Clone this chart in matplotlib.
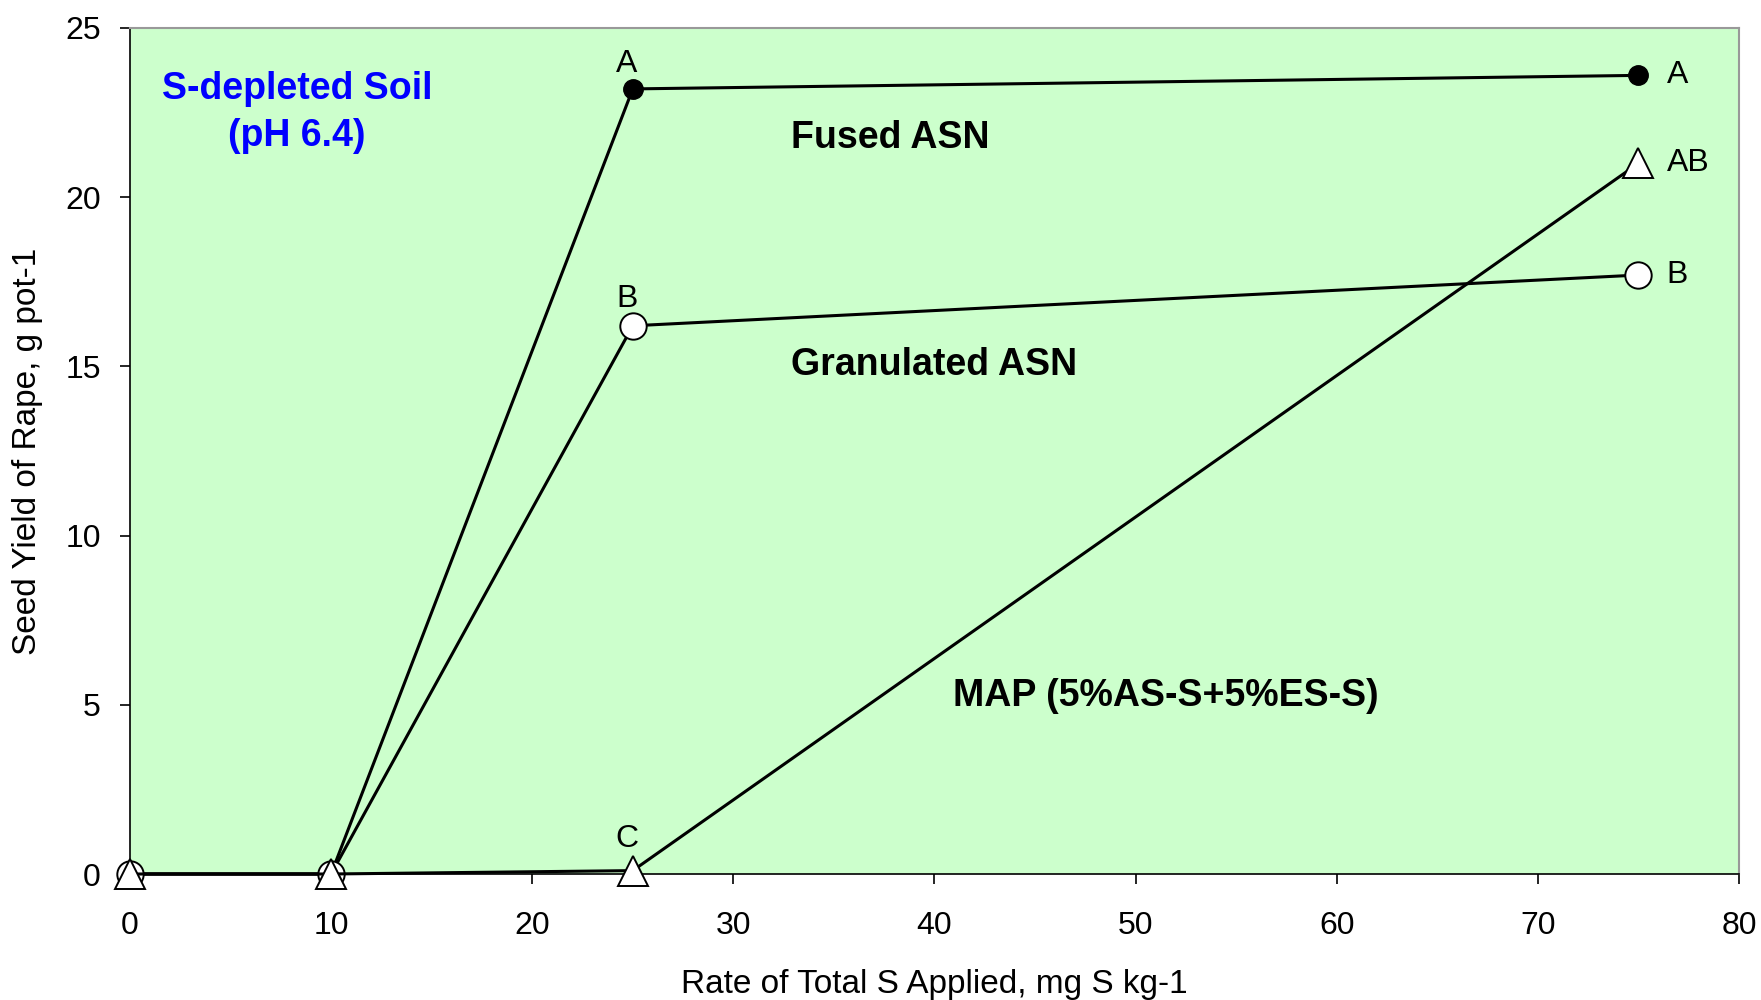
import numpy as np
import matplotlib.pyplot as plt

plt.rcParams['font.family'] = ['Liberation Sans', 'DejaVu Sans']

# Datos del gráfico
dosis_s = [0, 10, 25, 75]
fused_asn = [0, 0, 23.2, 23.6]
granulated_asn = [0, 0, 16.2, 17.7]
map_es = [0, 0, 0.1, 21.0]

letras_fused = ['A', 'A']
letras_gran = ['B', 'B']
letras_map = ['C', 'AB']

fig = plt.figure(figsize=(17.61, 10), dpi=100)
ax = fig.add_axes([0.0738, 0.126, 0.9137, 0.846])
ax.set_facecolor('#CCFFCC')

ax.plot(dosis_s, fused_asn, color='black', lw=2.2, marker='o', ms=14,
        mfc='black', mec='black', clip_on=False, zorder=3)
ax.plot(dosis_s, granulated_asn, color='black', lw=2.2, marker='o', ms=19,
        mfc='white', mec='black', mew=1.4, clip_on=False, zorder=4)
ax.plot(dosis_s, map_es, color='black', lw=2.2, marker='^', ms=21,
        mfc='white', mec='black', mew=1.4, clip_on=False, zorder=5)

ax.set_xlim(0, 80)
ax.set_ylim(0, 25)
ax.set_xticks(np.arange(0, 81, 10))
ax.set_yticks(np.arange(0, 26, 5))
ax.tick_params(direction='out', length=7, width=1.2, labelsize=23, pad=14)
ax.tick_params(axis='x', pad=20)
for lado in ['top', 'right']:
    ax.spines[lado].set_color('#999999')
    ax.spines[lado].set_linewidth(1.5)
for lado in ['left', 'bottom']:
    ax.spines[lado].set_color('black')
    ax.spines[lado].set_linewidth(1.2)

ax.set_xlabel('Rate of Total S Applied, mg S kg-1', fontsize=24, labelpad=20)
ax.set_ylabel('Seed Yield of Rape, g pot-1', fontsize=24, labelpad=16)

# Letras de significancia
ax.text(dosis_s[2] - 0.3, fused_asn[2] + 0.3, letras_fused[0], ha='center', va='bottom', fontsize=23)
ax.text(dosis_s[2] - 0.3, granulated_asn[2] + 0.35, letras_gran[0], ha='center', va='bottom', fontsize=23)
ax.text(dosis_s[2] - 0.3, map_es[2] + 0.5, letras_map[0], ha='center', va='bottom', fontsize=23)
ax.text(dosis_s[3] + 1.4, fused_asn[3], letras_fused[1], ha='left', va='center', fontsize=23)
ax.text(dosis_s[3] + 1.4, granulated_asn[3], letras_gran[1], ha='left', va='center', fontsize=23)
ax.text(dosis_s[3] + 1.4, map_es[3], letras_map[1], ha='left', va='center', fontsize=23)

# Etiquetas de las series
ax.text(37.8, 21.75, 'Fused ASN', ha='center', va='center', fontsize=27, fontweight='bold')
ax.text(40.0, 15.05, 'Granulated ASN', ha='center', va='center', fontsize=27, fontweight='bold')
ax.text(51.5, 5.25, 'MAP (5%AS-S+5%ES-S)', ha='center', va='center', fontsize=27, fontweight='bold')
ax.text(8.3, 22.5, 'S-depleted Soil\n(pH 6.4)', ha='center', va='center', fontsize=27,
        fontweight='bold', color='#0000FF', linespacing=1.38)

plt.savefig('out.png', dpi=100)
